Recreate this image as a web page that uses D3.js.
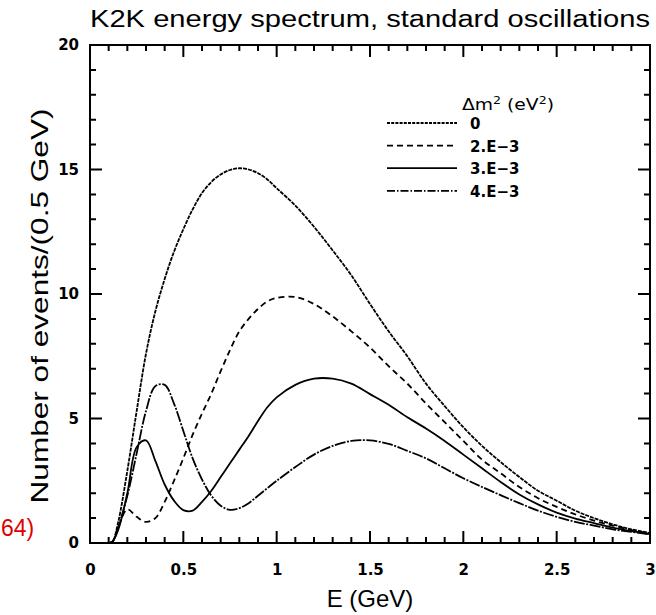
<!DOCTYPE html>
<html>
<head>
<meta charset="utf-8">
<script src="https://cdn.jsdelivr.net/npm/d3@7"></script>
<style>
  html, body { margin: 0; padding: 0; background: #fff; }
  svg { display: block; }
</style>
</head>
<body>
<svg id="chart" width="656" height="615"></svg>
<script>
// Neutrino energy grid (GeV)
const energy = [0, 0.05, 0.1, 0.12, 0.15, 0.2, 0.25, 0.3, 0.35, 0.4, 0.45, 0.5, 0.55, 0.6, 0.65, 0.7, 0.75,
  0.8, 0.85, 0.9, 0.95, 1.0, 1.1, 1.2, 1.3, 1.4, 1.5, 1.6, 1.7, 1.8, 1.9, 2.0, 2.1, 2.2, 2.3, 2.4, 2.5,
  2.6, 2.7, 2.8, 2.9, 3.0];

// Expected events per 0.5 GeV for each Δm² value
const noOsc = [0, 0, 0, 0.05, 0.8, 2.9, 5.3, 7.6, 9.3, 10.6, 11.7, 12.6, 13.4, 14.05, 14.5, 14.8, 14.98,
  15.05, 15.0, 14.85, 14.6, 14.25, 13.55, 12.7, 11.75, 10.75, 9.6, 8.5, 7.5, 6.4, 5.5, 4.65, 3.9, 3.25,
  2.65, 2.1, 1.7, 1.3, 1.0, 0.75, 0.55, 0.4];
const dm2e3 = [0, 0, 0, 0.05, 0.6, 1.35, 1.05, 0.85, 1.0, 1.65, 2.5, 3.4, 4.35, 5.2, 6.0, 6.9, 7.75,
  8.5, 9.0, 9.4, 9.7, 9.84, 9.88, 9.6, 9.1, 8.5, 7.85, 7.1, 6.4, 5.6, 4.85, 4.1, 3.35, 2.8,
  2.25, 1.8, 1.45, 1.15, 0.9, 0.7, 0.52, 0.38];
const dm3e3 = [0, 0, 0, 0.05, 0.5, 2.0, 3.85, 4.12, 3.3, 2.35, 1.7, 1.32, 1.3, 1.65, 2.1, 2.65, 3.2,
  3.75, 4.3, 4.9, 5.45, 5.85, 6.35, 6.6, 6.6, 6.4, 5.98, 5.55, 5.05, 4.6, 4.1, 3.55, 3.0, 2.45,
  1.95, 1.55, 1.22, 0.98, 0.8, 0.62, 0.48, 0.36];
const dm4e3 = [0, 0, 0, 0.05, 0.6, 1.9, 3.6, 5.3, 6.3, 6.35, 5.6, 4.5, 3.4, 2.55, 1.9, 1.5, 1.33,
  1.4, 1.6, 1.9, 2.2, 2.5, 3.05, 3.55, 3.9, 4.1, 4.12, 3.98, 3.7, 3.4, 3.0, 2.6, 2.25, 1.92,
  1.6, 1.3, 1.05, 0.85, 0.7, 0.55, 0.45, 0.35];

const seriesNames = ["0", "2.E\u22123", "3.E\u22123", "4.E\u22123"];
const seriesValues = [noOsc, dm2e3, dm3e3, dm4e3];
const seriesDash = ["4,1", "6,4", null, "11,1.5,2,1.5"];
const legendDash = ["3,1.2", "6,4", null, "8,2,1.5,2"];

const xMajorTicks = [0, 0.5, 1, 1.5, 2, 2.5, 3];
const xTickLabels = ["0", "0.5", "1", "1.5", "2", "2.5", "3"];
const yMajorTicks = [0, 5, 10, 15, 20];
const yTickLabels = ["0", "5", "10", "15", "20"];

const svg = d3.select("#chart");
const plotLeft = 90, plotRight = 650, plotTop = 45, plotBottom = 543;

const x = d3.scaleLinear().domain([0, 3]).range([plotLeft, plotRight]);
const y = d3.scaleLinear().domain([0, 20]).range([plotBottom, plotTop]);

const tickFont = "'DejaVu Sans', 'Liberation Sans', sans-serif";

// Frame
svg.append("rect")
  .attr("x", plotLeft).attr("y", plotTop)
  .attr("width", plotRight - plotLeft).attr("height", plotBottom - plotTop)
  .attr("fill", "none").attr("stroke", "#000").attr("stroke-width", 2);

const xMinor = d3.range(0, 31).map(v => v / 10);
const yMinor = d3.range(0, 21);
const isXMajor = v => Math.abs(v * 2 - Math.round(v * 2)) < 1e-6;
const isYMajor = v => v % 5 === 0;

// Inward-pointing ticks on all four sides, as one path
const tickPath = d3.path();
xMinor.forEach(v => {
  const len = isXMajor(v) ? 12 : 6;
  tickPath.moveTo(x(v), plotBottom); tickPath.lineTo(x(v), plotBottom - len);
  tickPath.moveTo(x(v), plotTop); tickPath.lineTo(x(v), plotTop + len);
});
yMinor.forEach(v => {
  const len = isYMajor(v) ? 12 : 6;
  tickPath.moveTo(plotLeft, y(v)); tickPath.lineTo(plotLeft + len, y(v));
  tickPath.moveTo(plotRight, y(v)); tickPath.lineTo(plotRight - len, y(v));
});
svg.append("path")
  .attr("d", tickPath.toString())
  .attr("fill", "none")
  .attr("stroke", "#000")
  .attr("stroke-width", 2);

// Tick labels via d3 axes (their own tick lines hidden)
svg.append("g").attr("transform", `translate(0,${plotBottom})`)
  .call(d3.axisBottom(x).tickValues(xMajorTicks).tickSize(0).tickPadding(21)
    .tickFormat((d, i) => xTickLabels[i]))
  .call(g => g.select(".domain").remove())
  .call(g => g.selectAll("text")
    .attr("font-family", tickFont).attr("font-weight", "bold")
    .attr("font-size", 15).attr("fill", "#000"));

svg.append("g").attr("transform", `translate(${plotLeft},0)`)
  .call(d3.axisLeft(y).tickValues(yMajorTicks).tickSize(0).tickPadding(11)
    .tickFormat((d, i) => yTickLabels[i]))
  .call(g => g.select(".domain").remove())
  .call(g => g.selectAll("text")
    .attr("font-family", tickFont).attr("font-weight", "bold")
    .attr("font-size", 15).attr("fill", "#000"));

// Spectra
const line = d3.line()
  .x((d, i) => x(energy[i]))
  .y(d => y(d))
  .curve(d3.curveCatmullRom.alpha(0.5));

const plot = svg.append("g");
seriesValues.forEach((vals, k) => {
  plot.append("path")
    .datum(vals)
    .attr("d", line)
    .attr("fill", "none")
    .attr("stroke", "#000")
    .attr("stroke-width", 1.8)
    .attr("stroke-dasharray", seriesDash[k]);
});

// Legend
const legend = svg.append("g");
legend.append("text")
  .attr("x", 462).attr("y", 110)
  .attr("font-family", tickFont).attr("font-size", 15).attr("fill", "#000")
  .attr("textLength", 92).attr("lengthAdjust", "spacingAndGlyphs")
  .html("\u0394m<tspan dy='-6' font-size='10'>2</tspan><tspan dy='6'> (eV</tspan><tspan dy='-6' font-size='10'>2</tspan><tspan dy='6'>)</tspan>");
seriesNames.forEach((name, k) => {
  const ly = 123 + k * 22.6;
  legend.append("line")
    .attr("x1", 387).attr("x2", 457)
    .attr("y1", ly).attr("y2", ly)
    .attr("stroke", "#000").attr("stroke-width", 1.8)
    .attr("stroke-dasharray", legendDash[k]);
  legend.append("text")
    .attr("x", 470).attr("y", ly + 6)
    .attr("font-family", tickFont).attr("font-weight", "bold")
    .attr("font-size", 15).attr("fill", "#000")
    .text(name);
});

// Title and axis labels
const labelFont = "'Liberation Sans', Arial, sans-serif";
svg.append("text")
  .attr("x", 90).attr("y", 27)
  .attr("font-family", labelFont).attr("font-size", 23).attr("fill", "#000")
  .attr("textLength", 560).attr("lengthAdjust", "spacingAndGlyphs")
  .text("K2K energy spectrum,  standard oscillations");

svg.append("text")
  .attr("transform", "translate(48,306) rotate(-90)")
  .attr("text-anchor", "middle")
  .attr("font-family", labelFont).attr("font-size", 24).attr("fill", "#000")
  .attr("textLength", 395).attr("lengthAdjust", "spacingAndGlyphs")
  .text("Number of events/(0.5 GeV)");

svg.append("text")
  .attr("x", 370).attr("y", 607)
  .attr("text-anchor", "middle")
  .attr("font-family", labelFont).attr("font-size", 24).attr("fill", "#000")
  .text("E (GeV)");

// Equation reference number at the left margin
svg.append("text")
  .attr("x", 1).attr("y", 536)
  .attr("font-family", "'Liberation Sans', Arial, sans-serif")
  .attr("font-size", 23).attr("fill", "#e00000")
  .text("64)");
</script>
</body>
</html>
